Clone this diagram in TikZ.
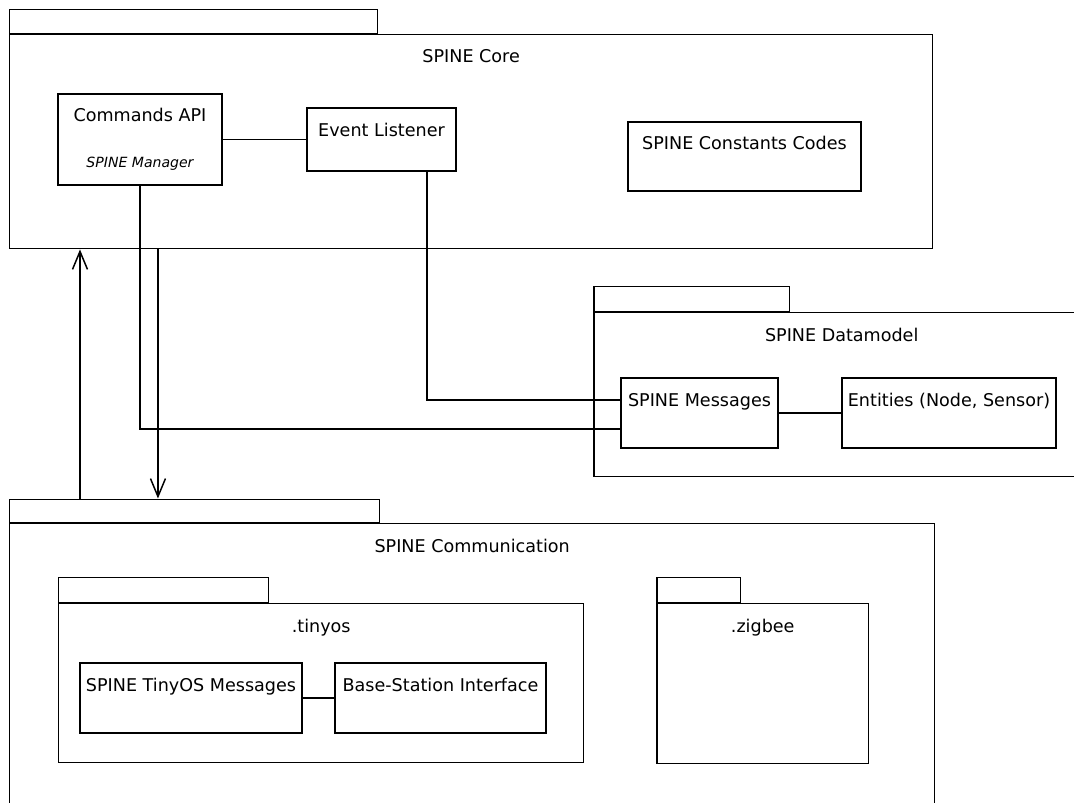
\documentclass[tikz,border=0pt]{standalone}
\usepackage{fontspec}
\setmainfont{DejaVu Sans}
\usepackage{tikz}
\usetikzlibrary{positioning, arrows.meta}

\begin{document}
\begin{tikzpicture}[
    x=0.02cm, y=-0.02cm,
    pkg/.style={rectangle, draw, line width=0.85pt, anchor=north west, inner sep=0pt},
    tab/.style={rectangle, draw, line width=0.85pt, anchor=south west, inner sep=0pt, minimum height=0.48cm},
    cls/.style={rectangle, draw, line width=0.85pt, align=center},
    lift/.style={text height=7.5pt, text depth=#1},
    lift/.default=15pt,
    link/.style={line width=0.85pt},
    flow/.style={line width=0.85pt, -{Straight Barb[length=3.6mm, width=3mm]}},
    node distance=0.19cm
]
    \useasboundingbox (0,0) rectangle (1074,803);
    \clip (0,0) rectangle (1074,803);

    % SPINE Core
    \node[pkg, minimum width=18.46cm, minimum height=4.28cm] (core) at (9,34) {};
    \node[tab, minimum width=7.36cm] (coretab) at (core.north west) {};
    \node[below=of core.north] (corelbl) {SPINE Core};
    \node[cls, minimum width=3.28cm, minimum height=1.82cm] (cmd) at (140,139.5) {Commands API \\[14pt] {\footnotesize\itshape SPINE Manager}};
    \node[cls, lift=11pt, minimum width=2.98cm, minimum height=1.26cm] (evt) at (381.5,139.5) {Event Listener};
    \node[cls, lift, minimum width=4.66cm, minimum height=1.38cm] (const) at (744.5,156.5) {SPINE Constants Codes};

    % SPINE Datamodel
    \node[pkg, minimum width=9.92cm, minimum height=3.28cm] (data) at (593,312) {};
    \node[tab, minimum width=3.92cm, minimum height=0.5cm] (datatab) at (data.north west) {};
    \node[below=of data.north] (datalbl) {SPINE Datamodel};
    \node[cls, lift, minimum width=3.14cm, minimum height=1.4cm] (msgs) at (699.5,413) {SPINE Messages};
    \node[cls, lift, minimum width=4.28cm, minimum height=1.4cm] (ent) at (949,413) {Entities (Node, Sensor)};

    % SPINE Communication
    \node[pkg, minimum width=18.5cm, minimum height=6cm] (comm) at (9,523) {};
    \node[tab, minimum width=7.4cm, minimum height=0.46cm] (commtab) at (comm.north west) {};
    \node[below=of comm.north] (commlbl) {SPINE Communication};
    \node[pkg, minimum width=10.5cm, minimum height=3.18cm] (tinyos) at (58,603) {};
    \node[tab, minimum width=4.2cm, minimum height=0.5cm] (tinyostab) at (tinyos.north west) {};
    \node[below=of tinyos.north] (tinyoslbl) {.tinyos};
    \node[cls, lift, minimum width=4.44cm, minimum height=1.4cm] (tosmsgs) at (191,698) {SPINE TinyOS Messages};
    \node[cls, lift, minimum width=4.22cm, minimum height=1.4cm] (base) at (440.5,698) {Base-Station Interface};
    \node[pkg, minimum width=4.24cm, minimum height=3.2cm] (zigbee) at (656,603) {};
    \node[tab, minimum width=1.68cm, minimum height=0.5cm] (zigbeetab) at (zigbee.north west) {};
    \node[below=of zigbee.north] (zigbeelbl) {.zigbee};

    \draw[link] (cmd) -- (evt);
    \draw[link] (msgs) -- (ent);
    \draw[link] (tosmsgs) -- (base);
    \draw[link] (cmd.south) |- ([yshift=-0.32cm]msgs.west);
    \draw[link] ([xshift=0.91cm]evt.south) |- ([yshift=0.26cm]msgs.west);

    % calls between core and communication
    \draw[flow] ([xshift=1.42cm]commtab.north west) -- ([xshift=1.42cm]core.south west);
    \draw[flow] ([xshift=2.98cm]core.south west) -- ([xshift=2.98cm]commtab.north west);
\end{tikzpicture}
\end{document}
